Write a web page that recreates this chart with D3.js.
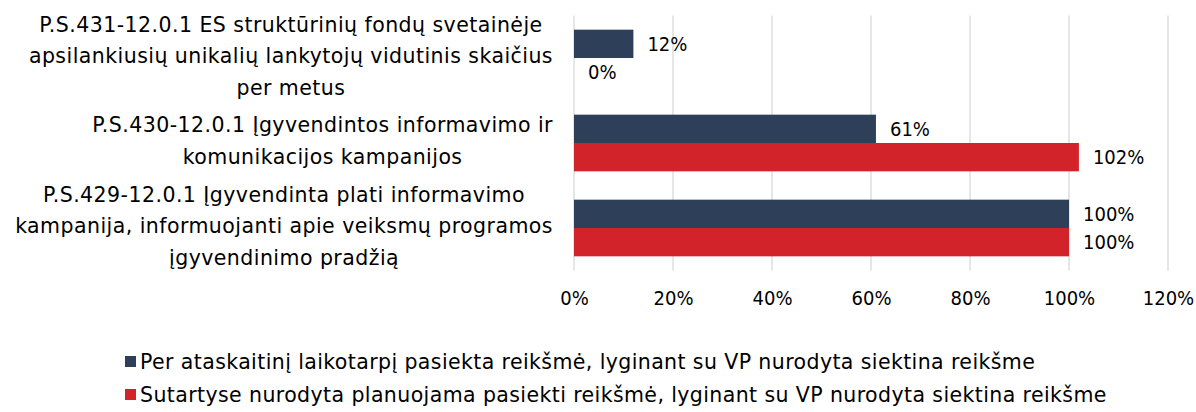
<!DOCTYPE html>
<html>
<head>
<meta charset="utf-8">
<script src="https://cdn.jsdelivr.net/npm/d3@7"></script>
<style>
  body { margin: 0; background: #fff; }
  svg text { fill: #000; }
</style>
</head>
<body>
<script>
// chart data
var categories = [
  ["P.S.431-12.0.1 ES struktūrinių fondų svetainėje", "apsilankiusių unikalių lankytojų vidutinis skaičius", "per metus"],
  ["P.S.430-12.0.1 Įgyvendintos informavimo ir", "komunikacijos kampanijos"],
  ["P.S.429-12.0.1 Įgyvendinta plati informavimo", "kampanija, informuojanti apie veiksmų programos", "įgyvendinimo pradžią"]
];
var seriesNames = [
  "Per ataskaitinį laikotarpį pasiekta reikšmė, lyginant su VP nurodyta siektina reikšme",
  "Sutartyse nurodyta planuojama pasiekti reikšmė, lyginant su VP nurodyta siektina reikšme"
];
var actual = [0.12, 0.61, 1.00];
var planned = [0.00, 1.02, 1.00];
var ticks = [0, 0.2, 0.4, 0.6, 0.8, 1.0, 1.2];

var colors = ["#2E3F59", "#D2232A"];
var W = 1196, H = 412;
var mainFont = "'DejaVu Sans', sans-serif";
var numFont = "'DejaVu Sans Condensed', sans-serif";

var svg = d3.select("body").append("svg")
  .attr("width", W).attr("height", H);

var x = d3.scaleLinear().domain([0, 1.2]).range([574, 1168]);
var y = d3.scaleBand().domain(d3.range(categories.length)).range([15.5, 270.5]);
var inner = d3.scaleBand().domain([0, 1]).range([0, y.bandwidth()]).paddingOuter(0.5);

// gridlines
svg.append("g").selectAll("line").data(ticks).enter().append("line")
  .attr("x1", function (d) { return x(d); })
  .attr("x2", function (d) { return x(d); })
  .attr("y1", 15.5).attr("y2", 270.5)
  .attr("stroke", "#D9D9D9").attr("stroke-width", 1.3);

// x tick labels
var xAxis = d3.axisBottom(x).tickValues(ticks).tickSize(0).tickPadding(0)
  .tickFormat(d3.format(".0%"));
var gx = svg.append("g").attr("transform", "translate(0,291)").call(xAxis);
gx.select(".domain").remove();
gx.selectAll("text").style("font-family", numFont).style("font-size", "20px").attr("fill", "#000");

// bars
var seriesData = [actual, planned];
seriesData.forEach(function (vals, s) {
  var g = svg.append("g");
  g.selectAll("rect").data(vals).enter().append("rect")
    .attr("x", x(0))
    .attr("y", function (d, i) { return y(i) + inner(s); })
    .attr("width", function (d) { return x(d) - x(0); })
    .attr("height", inner.bandwidth())
    .attr("fill", colors[s]);
  g.selectAll("text").data(vals).enter().append("text")
    .attr("x", function (d) { return x(d) + 14; })
    .attr("y", function (d, i) { return y(i) + inner(s) + inner.bandwidth() / 2; })
    .attr("dy", "0.35em")
    .style("font-family", numFont).style("font-size", "20px")
    .text(function (d) { return d3.format(".0%")(d); });
});

// category labels (wrapped, centered inside a right-aligned block)
var lineH = 31.5;
categories.forEach(function (lines, i) {
  var t = svg.append("text")
    .style("font-family", mainFont).style("font-size", "20.5px")
    .style("letter-spacing", "0.45px")
    .attr("text-anchor", "middle");
  var cy = y(i) + y.bandwidth() / 2 - 2;
  var n = lines.length;
  t.selectAll("tspan").data(lines).enter().append("tspan")
    .attr("x", 0)
    .attr("y", function (d, k) { return cy + (k - (n - 1) / 2) * lineH; })
    .attr("dy", "0.35em")
    .text(function (d) { return d; });
  var maxW = 0;
  t.selectAll("tspan").each(function () {
    maxW = Math.max(maxW, this.getComputedTextLength());
  });
  t.selectAll("tspan").attr("x", 553 - maxW / 2);
});

// legend
var leg = svg.append("g");
seriesNames.forEach(function (name, s) {
  var ly = 362 + s * 33;
  leg.append("rect").attr("x", 125).attr("y", ly - 6).attr("width", 11).attr("height", 11)
    .attr("fill", colors[s]);
  leg.append("text").attr("x", 140).attr("y", ly).attr("dy", "0.35em")
    .style("font-family", mainFont).style("font-size", "20.5px")
    .style("letter-spacing", "0.4px")
    .text(name);
});
</script>
</body>
</html>
